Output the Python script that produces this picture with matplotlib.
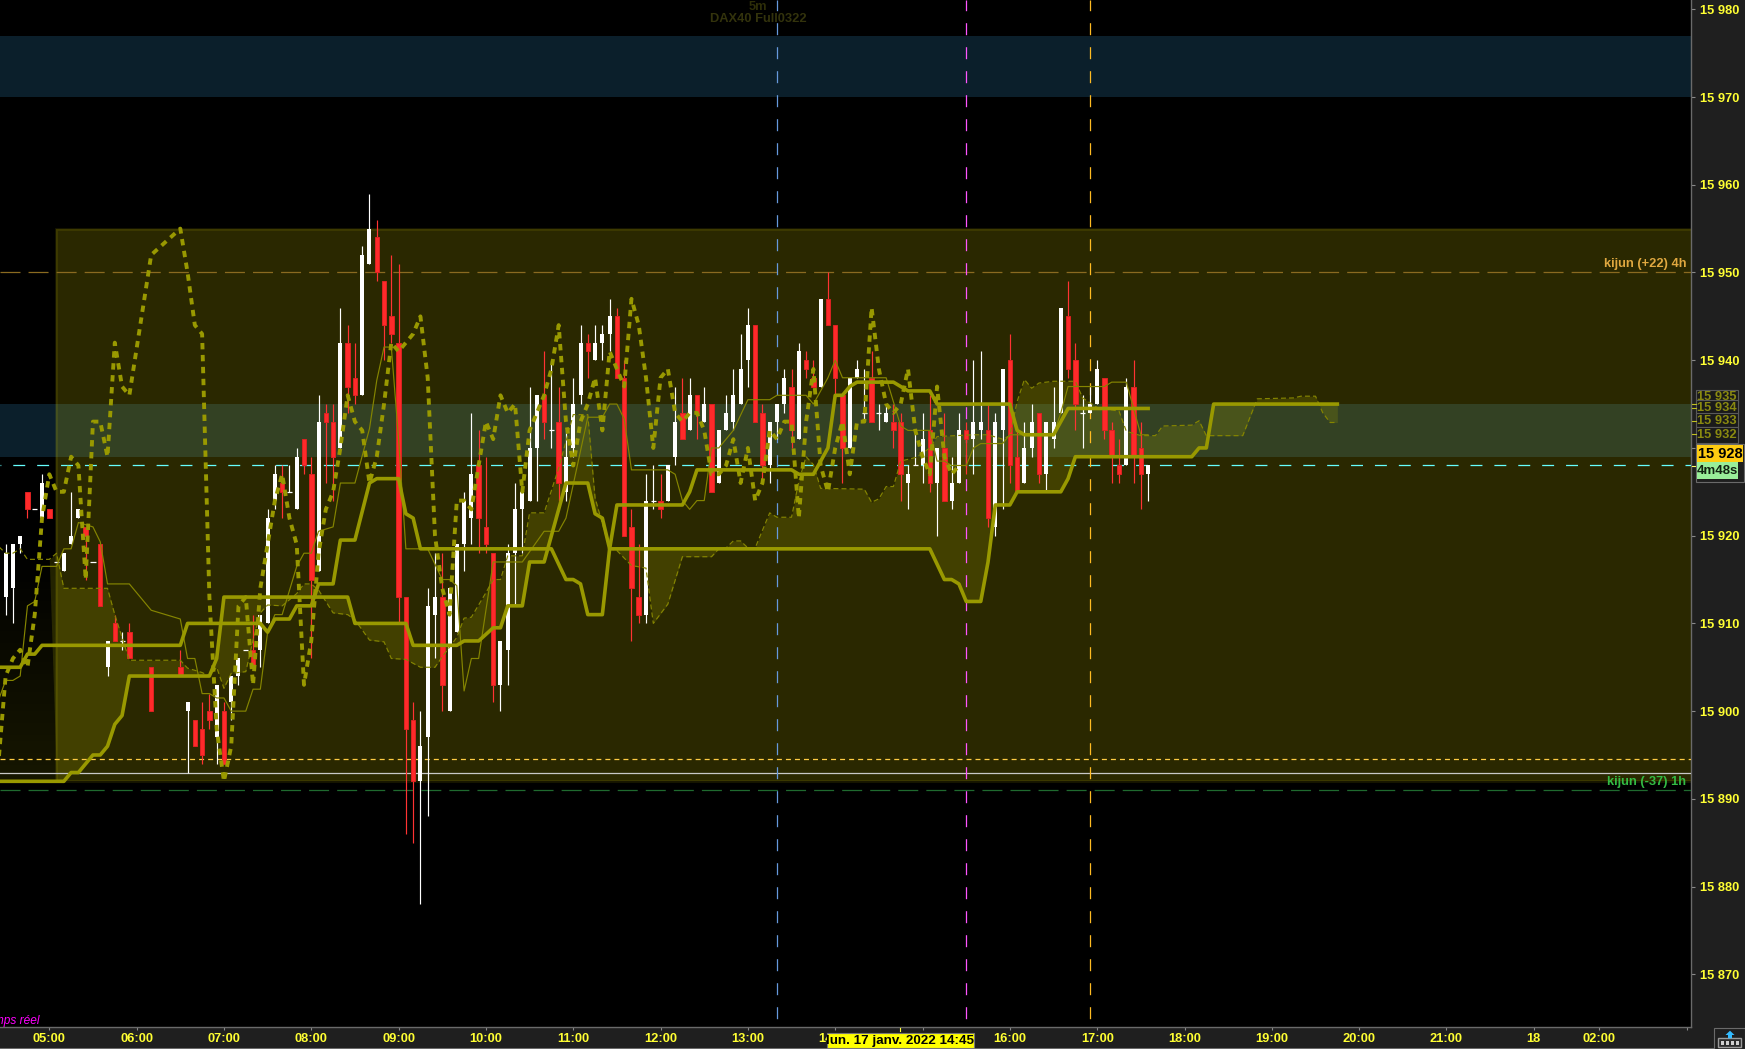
import numpy as np
import matplotlib
matplotlib.use("Agg")
import matplotlib.pyplot as plt
from matplotlib.patches import Rectangle, Polygon
from matplotlib.lines import Line2D

plt.rcParams['font.family'] = ['Liberation Sans', 'DejaVu Sans']
plt.rcParams['lines.scale_dashes'] = False
plt.rcParams['lines.dash_capstyle'] = 'butt'

# ---- data: prices are offsets from PRICE_BASE, time is the number of 5-minute bars after 05:00
PRICE_BASE = 15900
bar_t = [-6,-5,-4,-3,-2,-1,0,1,2,3,4,5,6,7,8,9,10,11,14,18] + list(range(19, 152))
bar_open = [13,14,19,25,23,22,23,17,16,19,22,21,17,19,5,10,8,9,5,5,
  0,-1,-2,0,-3,0,1,4,7,7,
  7,10,24,26,25,23,31,27,16,34,
  33,30,42,38,36,51,54,49,45,42,
  13,-1,-8,-3,11,13,0,9,19,22,
  28,21,18,3,7,18,23,24,30,36,
  32,33,25,30,36,42,40,42,43,45,
  38,21,13,11,24,24,24,29,34,32,
  36,33,35,26,32,33,35,40,44,34,
  28,33,35,37,31,40,38,37,47,44,
  36,30,38,34,38,34,33,33,33,26,
  28,28,32,26,30,24,26,32,31,32,
  32,21,32,40,29,26,30,34,27,31,
  34,45,40,34,34,35,38,32,28,28,37,30,27]
bar_high = [19,19,20,25,23,27,23,17,18,25,23,21,17,19,8,11,9,10,5,7,
  1,-1,1,2,3,1,4,6,7,11,
  11,23,28,28,28,30,31,29,36,35,
  35,46,44,42,53,59,56,49,52,51,
  13,1,0,14,18,18,14,19,25,34,
  32,29,18,8,19,26,25,37,36,41,
  40,37,32,38,44,43,44,44,47,46,
  40,23,19,27,28,27,28,37,38,38,
  36,37,35,32,36,39,43,46,44,35,
  33,35,39,39,42,41,40,47,50,44,
  36,38,40,39,41,35,35,35,34,28,
  32,34,36,30,34,29,34,33,40,41,
  35,34,39,43,32,33,35,34,33,37,
  46,49,42,36,37,40,38,33,31,38,40,33,28]
bar_low = [11,10,18,22,23,22,22,17,16,19,22,15,17,12,4,8,7,6,0,4,
  -7,-4,-6,-2,-6,-6,-1,3,7,5,
  5,10,23,22,25,23,27,6,16,26,
  24,30,34,35,36,51,49,40,42,10,
  -14,-15,-22,-12,6,0,0,9,16,19,
  18,18,1,0,3,12,18,24,24,31,
  30,24,24,29,35,38,40,40,41,38,
  20,8,10,10,23,22,24,28,31,32,
  31,33,25,26,32,32,35,37,33,26.5,
  26,31,34,30,31,38,37,37,44,36,
  26,30,38,33,33,32,33,30,24,23,
  28,26,25,20,24,23,26,27,27,31,
  21,20,23,26,25,26,29,26,25,30,
  34,38,32,30,34,35,31,26,26,28,26,23,24]
bar_close = [18,19,20,23,23,26,22,17,18,20,23,20,17,12,8,8,8,6,0,4,
  1,-4,-5,-1,3,-6,4,6,7,5,
  11,22,27,25,25,29,28,15,33,33,
  29,42,37,36,52,55,50,44,43,13,
  -2,-8,-4,12,13,3,14,19,24,27,
  22,19,3,8,18,23,25,30,36,33,
  32,26,29,35,42,41,42,43,45,38,
  20,14,11,24,24,23,28,33,31,36,
  34,35,25,32,34,36,39,44,33,28,
  33,35,38,32,41,39,37,47,44,38,
  30,38,39,34,33,34,34,32,27,27,
  28,31,26,30,24,26,32,31,33,33,
  22,33,39,28,25,30,33,27,33,33,
  46,39,35,34,35,39,32,29,27,37,29,27,28]

chikou_t = [-7] + bar_t[:127]
chikou_d = [-6,4,6,7,5,
  11,22,27,25,25,29,28,15,33,33,
  29,42,37,36,52,55,50,44,43,13,
  -2,-8,-4,12,13,3,14,19,24,27,
  22,19,3,8,18,23,25,30,36,33,
  32,26,29,35,42,41,42,43,45,38,
  20,14,11,24,24,23,28,33,31,36,
  34,35,25,32,34,36,39,44,33,28,
  33,35,38,32,41,39,37,47,44,38,
  30,38,39,34,33,34,34,32,27,27,
  28,31,26,30,24,26,32,31,33,33,
  22,33,39,28,25,30,33,27,33,33,
  46,39,35,34,35,39,32,29,27,37,29,27,28]

kijun_t = [-7,-4,-3,-2,-1,18,19,29,30,31,33,34,36,37,39,40,42,44,45,48,49,50,51,69,71,72,73,74,76,77,78,87,88,89,102,103,105,107,108,109,110,111,116,118,121,122,132,133,134,138,140,151]
kijun_d = [5,5,6.5,6.5,7.5,7.5,10,10,9,10.5,10.5,12,12,14.5,14.5,19.5,19.5,26,26.5,26.5,22.5,22,18.5,18.5,15,15,14.5,11,11,18.5,23.5,23.5,25,27.5,27.5,27,27,30,36,36,37,37.5,37.5,36.5,36.5,35,35,32,31.5,31.5,34.5,34.5]

senkou_b_t = [-7,2,3,4,6,7,8,9,10,11,22,23,24,41,42,49,50,56,57,59,61,62,63,65,66,68,71,74,75,76,77,121,123,124,125,126,128,129,130,132,133,139,140,141,157,158,159,160,177]
senkou_b_d = [-8,-8,-7,-7,-5,-5,-4,-1.5,-0.5,4,4,6,13,13,10,10,7.5,7.5,8,8,9.5,9.5,12,12,17,17,26,26,22.5,22,18.5,18.5,15,15,14.5,12.5,12.5,17,23.5,23.5,25,25,26.5,29,29,30,30,35,35]

senkou_a_t = [-7,-6,-5,-4,-3,0,1,2,8,9,11,18,19,21,22,23,24,25,27,28,29,30,32,34,35,36,37,39,41,42,44,46,47,49,51,53,54,56,57,58,60,61,62,63,65,66,68,70,72,74,75,77,78,80,82,83,85,87,91,92,93,94,95,96,97,99,100,102,103,104,105,106,112,113,114,115,116,117,119,120,121,122,127,129,131,132,133,134,135,136,138,141,142,144,147,148,150,152,153,157,158,159,164,166,171,172,174,175,176,177]
senkou_a_d = [18.8,18,18,18.5,17.3,17.3,18,14,14,11,5.8,5.8,4.9,4.4,4,5,2.6,4.3,4.5,8.1,11.2,12.1,12,13.4,14.5,14.5,13.8,11.2,11,10.4,8.1,7.9,6,5.9,5,5,6.2,8.4,10.6,10.7,13.5,15,15,17.7,17.7,22.6,22.6,27.7,33.8,33.8,24.3,18.5,18.3,16.6,16.3,10,12.2,17.6,17.6,18.5,18.6,19.4,19.4,18.6,18.6,22.6,22.1,22.1,26.2,29,28.1,25.4,25.3,23.8,24.2,25.6,25.6,28.5,28.9,29.4,30,31.3,31.5,31.5,31,31.4,35.3,37.8,36.8,37.4,37.6,37.6,35.7,34.6,34.2,31.9,31.4,31.4,32.5,32.6,33.1,31.4,31.4,35.6,35.7,35.9,35.9,34,32.9,32.9]

tenkan_t = [-7,-6,-5,-4,-3,-2,-1,1,2,3,4,6,7,8,11,14,18,19,20,21,22,23,24,25,27,28,29,30,31,32,34,35,36,37,39,40,42,44,45,46,47,48,49,52,54,55,56,57,58,59,61,65,68,70,71,74,76,77,78,79,80,85,86,87,88,89,90,91,92,94,96,99,100,104,105,107,108,109,115,117,118,121,122,123,124,126,127,128,131,132,138,139,140,145,146,148,150,151]
tenkan_d = [1.2,3.5,3.5,4,12,12.5,16.5,16.5,18.5,18.5,21.5,21,19.3,14.5,14.5,11.5,10.5,6,6,2,2,1.5,1.5,0,0,2.5,2.5,9,11,11,16.5,18,18,20.5,21,26,26,32.2,37.7,41.5,41.5,31,18.5,18.5,15,15,14.3,2.3,6,6,17,17,20.5,20.5,22,33.5,33.5,35,35,33.3,27.5,27.5,27,24,23,24,24,30,30,32,35.5,35.5,36,36,35,38,40,38,38,32.5,32,32,28.5,28.5,28,28,30,30.5,30.5,31.5,31.5,34,37,37,37.5,37.5,31.5,31.5]

zone_high = [(15970, 15977), (15929, 15935)]
rect_span = (0.92, 15892, 15955)
tick_t = [0,12,24,36,48,60,72,84,96,108,120,132,144,156,168,180,192,204,213,225]
tick_labels = ['05:00','06:00','07:00','08:00','09:00','10:00','11:00','12:00','13:00','14:00','15:00','16:00','17:00','18:00','19:00','20:00','21:00','18','02:00','']
ytick_vals = list(range(15870, 15990, 10))
hline_vals = {'kijun_4h': 15950, 'last': 15928, 'yellow': 15894.5, 'grey': 15893, 'kijun_1h': 15891}
vline_t = {'blue': 100, 'magenta': 126, 'orange': 143}

# ---- figure
W, H = 1745, 1049
FS = 9.3
fig = plt.figure(figsize=(W/100, H/100), dpi=100, facecolor='#1f1f1f')
ax = fig.add_axes([0, (H-1027.3)/H, 1691/W, 1027.3/H], facecolor='black')
XL = (-6.774, 225.6)
YL = (15863.96, 15981.06)

OLIVE = '#999900'
THIN = '#858500'

for lo, hi in zone_high:
    ax.axhspan(lo, hi, color='#0b1f2b', lw=0, zorder=1)
rx, rlo, rhi = rect_span
ax.add_patch(Rectangle((rx, rlo), 400, rhi-rlo, fc='#e9de00', ec='none', alpha=0.18, zorder=2))
ax.add_patch(Rectangle((rx, rlo), 400, rhi-rlo, fc='none', ec='#e9de00', lw=2.0, alpha=0.10, zorder=2))

# cloud
grid = np.union1d(senkou_a_t, senkou_b_t).astype(float)
grid = np.union1d(grid, [1.0])
sa = PRICE_BASE + np.interp(grid, senkou_a_t, senkou_a_d)
sb = PRICE_BASE + np.interp(grid, senkou_b_t, senkou_b_d)
ax.fill_between(grid, sa, sb, where=grid >= 1, color=OLIVE, alpha=0.22, lw=0, zorder=3, interpolate=True)
mask = grid <= 1
grad = np.zeros((64, 2, 4))
grad[..., 0] = grad[..., 1] = 0.6
grad[..., 3] = np.linspace(0.0, 0.15, 64)[:, None]
im = ax.imshow(grad, extent=(-7, 1, PRICE_BASE-8, PRICE_BASE+19), origin='upper', aspect='auto', zorder=3, interpolation='bilinear')
poly = np.vstack([np.c_[grid[mask], sa[mask]], np.c_[grid[mask][::-1], sb[mask][::-1]]])
im.set_clip_path(Polygon(poly, transform=ax.transData))

# horizontal and vertical studies
ax.axhline(hline_vals['kijun_4h'], color='#8a6a20', lw=0.9, ls=(0, (14.4, 5.8)), zorder=3.5)
ax.axhline(hline_vals['last'], color='#66ffff', lw=0.9, ls=(8, (8.6, 8.6)), zorder=3.5)
ax.axhline(hline_vals['yellow'], color='#ffcc44', lw=0.9, ls=(0, (3.6, 2.9)), zorder=3.5)
ax.axhline(hline_vals['grey'], color='#c8c8c8', lw=0.9, zorder=3.5)
ax.axhline(hline_vals['kijun_1h'], color='#1f6a2f', lw=0.9, ls=(0, (14.4, 5.8)), zorder=3.5)
ax.axvline(vline_t['blue'], color='#6699dd', lw=0.9, ls=(11.3, (8.64, 8.64)), zorder=3.5)
ax.axvline(vline_t['magenta'], color='#ff55ff', lw=0.9, ls=(11.3, (8.64, 8.64)), zorder=3.5)
ax.axvline(vline_t['orange'], color='#ffbb22', lw=0.9, ls=(11.3, (8.64, 8.64)), zorder=3.5)

# candles
t = np.array(bar_t, float)
o = PRICE_BASE + np.array(bar_open, float)
hi_ = PRICE_BASE + np.array(bar_high, float)
lo_ = PRICE_BASE + np.array(bar_low, float)
c = PRICE_BASE + np.array(bar_close, float)
up = c >= o
doji = c == o
ax.vlines(t[up], lo_[up], hi_[up], color='white', lw=0.85, zorder=4)
ax.vlines(t[~up], lo_[~up], hi_[~up], color='#ff3333', lw=0.85, zorder=4)
bw = up & ~doji
ax.bar(t[bw], (c-o)[bw], bottom=o[bw], width=0.55, color='white', lw=0, zorder=4.2)
rd = ~up
ax.bar(t[rd], (o-c)[rd], bottom=c[rd], width=0.62, color='#ff2a2a', edgecolor='#dd2222', lw=0.7, zorder=4.2)
ax.hlines(c[doji], t[doji]-0.35, t[doji]+0.35, color='white', lw=0.9, zorder=4.2)

# ichimoku lines
ax.plot(tenkan_t, PRICE_BASE+np.array(tenkan_d), color=THIN, lw=0.85, zorder=5)
ax.plot(senkou_a_t, PRICE_BASE+np.array(senkou_a_d), color=THIN, lw=0.85, ls=(0, (3.6, 2.2)), zorder=5)
ax.plot(chikou_t, PRICE_BASE+np.array(chikou_d), color=OLIVE, lw=2.8, ls=(0, (4.6, 4.0)), zorder=5.5)
ax.plot(senkou_b_t, PRICE_BASE+np.array(senkou_b_d), color=OLIVE, lw=2.6, zorder=6, solid_joinstyle='round')
ax.plot(kijun_t, PRICE_BASE+np.array(kijun_d), color=OLIVE, lw=2.6, zorder=6, solid_joinstyle='round')

ax.set_xlim(*XL)
ax.set_ylim(*YL)
for s in ('top', 'left'):
    ax.spines[s].set_visible(False)
for s in ('bottom', 'right'):
    ax.spines[s].set_color('#6a6a6a')
    ax.spines[s].set_linewidth(1.0)
ax.yaxis.tick_right()
ax.set_xticks(tick_t)
ax.set_xticklabels(tick_labels)
ax.set_yticks(ytick_vals)
ax.set_yticklabels([f"{v//1000} {v%1000:03d}" for v in ytick_vals])
ax.tick_params(axis='x', length=2.4, width=0.8, color='#8a8a8a', pad=2.0, labelsize=FS, labelcolor='#ffff33')
ax.tick_params(axis='y', length=3.2, width=0.8, color='#8a8a8a', pad=3.0, labelsize=FS, labelcolor='#ffff33')
for lab in ax.get_xticklabels() + ax.get_yticklabels():
    lab.set_fontweight('bold')

# ---- helpers in figure pixels
def ftext(x, y, s, **kw):
    kw.setdefault('fontsize', FS)
    kw.setdefault('fontweight', 'bold')
    kw.setdefault('va', 'center')
    return fig.text(x/W, 1-y/H, s, **kw)

def frect(x0, y0, x1, y1, fc, ec='none', lw=0.8, z=2):
    r = Rectangle((x0/W, 1-y1/H), (x1-x0)/W, (y1-y0)/H, transform=fig.transFigure, fc=fc, ec=ec, lw=lw, zorder=z)
    fig.add_artist(r)
    return r

def fline(x0, y0, x1, y1, col, lw=0.8, z=2):
    fig.add_artist(Line2D([x0/W, x1/W], [1-y0/H, 1-y1/H], color=col, lw=lw, zorder=z, transform=fig.transFigure))

ftext(757.7, 6.7, '5m', ha='center', color='#2e2e08')
ftext(758, 19, 'DAX40 Full0322', ha='center', color='#33330c')
ftext(1686, 264, 'kijun (+22) 4h', ha='right', color='#e0a840')
ftext(1685.7, 782, 'kijun (-37) 1h', ha='right', color='#33bb44')
ftext(40, 1021, 'temps réel', ha='right', color='#ff00ff', fontsize=8.6, fontweight='normal', style='italic')

# price flags
flags = [('15 935', 390, 403, 397.3), ('15 934', 400, 413.5, 407.7), ('15 933', 413.3, 426.7, 421), ('15 932', 426.7, 443.3, 435)]
for i, (txt, y0, y1, yc) in enumerate(flags):
    frect(1696.3, y0, 1738, y1, '#1a1a1a', ec='#5a5a5a', z=2+i*0.1)
    ftext(1717, yc, txt, ha='center', color='#8a8a10', zorder=2.05+i*0.1)
for yy in (404.3, 408.3, 421, 434):
    fline(1691.5, yy, 1696, yy, '#c0c020', z=2.5)
fline(1691.5, 465.5, 1696, 465.5, '#ffff66', z=2.5)
frect(1696, 444, 1744, 481.7, '#1f1f1f', ec='#6a6a6a', z=3)
frect(1696.7, 445, 1743.3, 462.3, '#ffcc11', z=3.1)
ftext(1720, 454, '15 928', ha='center', color='black', fontsize=10.5, zorder=3.2)
frect(1696.7, 462.3, 1738.3, 479, '#99ee99', z=3.1)
ftext(1717.5, 471, '4m48s', ha='center', color='#112211', fontsize=9.5, zorder=3.2)

# date flag
frect(826.7, 1032.7, 974.3, 1048, '#ffff00', ec='#777777', z=3)
ftext(900.5, 1040.7, 'lun. 17 janv. 2022 14:45', ha='center', color='black', fontsize=9.6, zorder=3.2)
fline(900.3, 1027.6, 900.3, 1030.5, '#ffff33', z=3)

# bottom edge and button
frect(0, 1047.6, W, H, '#6a6a6a', z=1.5)
frect(1714, 1028.3, 1745, 1049, '#1f1f1f', ec='#6a6a6a', z=2)
frect(1718.3, 1038.3, 1740.7, 1046.7, '#2a2a2a', ec='#999999', lw=1.0, z=2.1)
for qx in (1721, 1726, 1731, 1736):
    frect(qx, 1041, qx+3.4, 1044.5, '#cfcfcf', z=2.2)
arrow = np.array([[1730, 1030.7], [1734.5, 1035], [1732, 1035], [1732, 1038.3], [1728, 1038.3], [1728, 1035], [1725.5, 1035]])
fig.add_artist(Polygon(np.c_[arrow[:, 0]/W, 1-arrow[:, 1]/H], closed=True, fc='#33bbff', ec='none', transform=fig.transFigure, zorder=2.3))

fig.savefig('out.png', dpi=100, facecolor=fig.get_facecolor())
